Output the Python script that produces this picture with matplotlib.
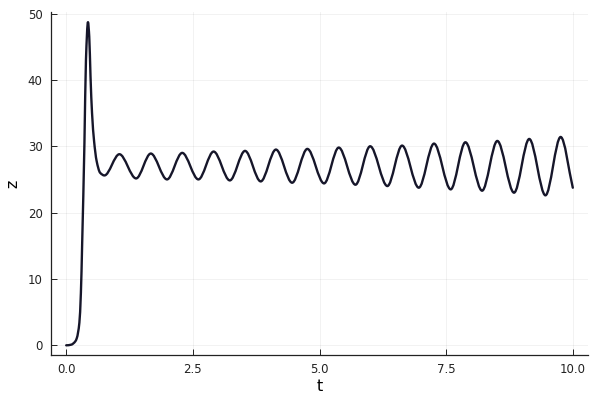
import numpy as np
import matplotlib
matplotlib.use("Agg")
import matplotlib.pyplot as plt
from matplotlib.path import Path
from matplotlib.patches import PathPatch

# 읽어낸 값: 초기 상승 구간 + 진동의 극대/극소점
t_rise = [0.0, 0.10, 0.18, 0.21, 0.26, 0.29, 0.315, 0.36, 0.39, 0.43,
          0.455, 0.48, 0.51, 0.55, 0.60, 0.67]
z_rise = [0.0, 0.1, 0.6, 1.1, 3.4, 7.9, 15.3, 30.5, 43.0, 48.7,
          46.5, 40.5, 35.0, 30.8, 27.8, 26.0]

t_peak = [1.05, 1.67, 2.29, 2.91, 3.53, 4.14, 4.76, 5.38, 6.00, 6.63,
          7.26, 7.88, 8.51, 9.14, 9.76]
z_peak = [28.8, 28.9, 29.0, 29.2, 29.3, 29.5, 29.6, 29.8, 30.0, 30.1,
          30.4, 30.6, 30.8, 31.1, 31.4]

t_trough = [0.755, 1.38, 1.99, 2.61, 3.23, 3.84, 4.46, 5.09, 5.71, 6.34,
            6.96, 7.59, 8.21, 8.84, 9.46]
z_trough = [25.6, 25.15, 25.0, 25.0, 24.85, 24.7, 24.5, 24.4, 24.2, 24.0,
            23.75, 23.5, 23.3, 23.0, 22.6]

t_end = [10.0]
z_end = [23.75]

xticks = [0.0, 2.5, 5.0, 7.5, 10.0]
yticks = [0, 10, 20, 30, 40, 50]

# 점들을 시간 순으로 합치기
t_osc = []
z_osc = []
for tr, zt, tp, zp in zip(t_trough, z_trough, t_peak, z_peak):
    t_osc += [tr, tp]
    z_osc += [zt, zp]
t = np.array(t_rise + t_osc + t_end)
z = np.array(z_rise + z_osc + z_end)

# 단조 3차 (PCHIP 방식) 기울기 -> 베지어 제어점
h = np.diff(t)
d = np.diff(z) / h
m = np.zeros_like(z)
for i in range(1, len(z) - 1):
    if d[i - 1] * d[i] > 0:
        w1 = 2 * h[i] + h[i - 1]
        w2 = h[i] + 2 * h[i - 1]
        m[i] = (w1 + w2) / (w1 / d[i - 1] + w2 / d[i])
m[0] = 0.0
m[-1] = d[-1]

verts = [(t[0], z[0])]
codes = [Path.MOVETO]
for i in range(len(t) - 1):
    verts += [(t[i] + h[i] / 3, z[i] + m[i] * h[i] / 3),
              (t[i + 1] - h[i] / 3, z[i + 1] - m[i + 1] * h[i] / 3),
              (t[i + 1], z[i + 1])]
    codes += [Path.CURVE4] * 3

fig = plt.figure(figsize=(6, 4), dpi=100)
ax = fig.add_axes([0.085, 0.1125, 0.895, 0.8565])

line = PathPatch(Path(verts, codes), fill=False, edgecolor="#16162a",
                 linewidth=1.7, capstyle="round", joinstyle="round")
ax.add_patch(line)

ax.set_xlim(-0.3, 10.3)
ax.set_ylim(-1.46, 50.17)
ax.set_xticks(xticks)
ax.set_xticklabels(["0.0", "2.5", "5.0", "7.5", "10.0"])
ax.set_yticks(yticks)
ax.set_xlabel("t", fontsize=11.5, labelpad=2)
ax.set_ylabel("z", fontsize=11.5, labelpad=5)

ax.grid(True, color="black", alpha=0.06, linewidth=0.6)
ax.spines["top"].set_visible(False)
ax.spines["right"].set_visible(False)
for s in ["left", "bottom"]:
    ax.spines[s].set_linewidth(0.9)
    ax.spines[s].set_color("#222222")
ax.tick_params(direction="in", length=4, width=0.7, labelsize=8.5,
               colors="#222222", pad=6)

fig.savefig("out.png", dpi=100)
